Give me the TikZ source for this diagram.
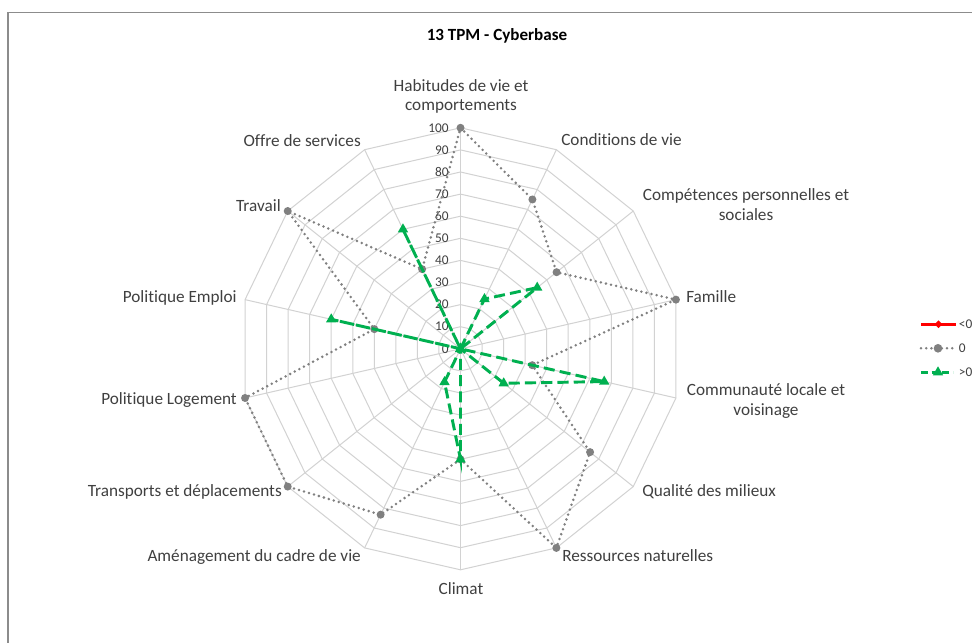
\documentclass[tikz,border=0pt]{standalone}
\usepackage{fontspec}
\setmainfont{Carlito}[Ligatures=NoCommon]
\usetikzlibrary{shapes.geometric}
\definecolor{gridc}{RGB}{210,210,210}
\definecolor{txt}{RGB}{64,64,64}
\definecolor{grayser}{RGB}{128,128,128}
\definecolor{greenser}{RGB}{0,176,80}
\definecolor{framec}{RGB}{140,140,140}
\begin{document}
\begin{tikzpicture}[x=0.75pt,y=-0.75pt,
  gridline/.style={draw=gridc, line width=0.75pt},
  lbl/.style={font=\fontsize{12.9}{15}\selectfont, text=txt, inner sep=0pt},
  numlbl/.style={font=\fontsize{10}{12}\selectfont, text=txt, inner sep=0pt, anchor=east},
  titlelbl/.style={font=\fontsize{12.8}{15}\bfseries\selectfont, text=black, inner sep=0pt, anchor=base},
  grayline/.style={draw=grayser, line width=2.1pt, line cap=round, dash pattern=on 0pt off 3.9pt},
  greenline/.style={draw=greenser, line width=2.2pt, dash pattern=on 8.3pt off 3.9pt},
  graydot/.style={circle, fill=grayser, inner sep=0pt, minimum size=6pt},
  greentri/.style={regular polygon, regular polygon sides=3, fill=greenser, inner sep=0pt, minimum size=9pt},
  reddia/.style={diamond, fill=red, inner sep=0pt, minimum size=4pt}]
\useasboundingbox (0,0) rectangle (972,643);
\fill[white] (0,0) rectangle (972,643);
\clip (0,0) rectangle (972,643);
\draw[framec, line width=1.1pt] (8,700) -- (8,12.5) -- (1000,12.5);

\def\cx{460.5}
\def\cy{348.8}
\coordinate (C) at (\cx,\cy);
% grid coordinates
\foreach \i in {0,...,13} {
  \foreach \k in {1,...,10} {
    \coordinate (r\k-\i) at ({\cx+\k*22.1*sin(\i*360/14)},{\cy-\k*22.1*cos(\i*360/14)});
  }
}
% rings
\foreach \k in {1,...,10} {
  \draw[gridline] (r\k-0) \foreach \i in {1,...,13} { -- (r\k-\i) } -- cycle;
}
% spokes
\foreach \i in {0,...,13} { \draw[gridline] (C) -- (r10-\i); }

% scale labels
\foreach \k [evaluate=\k as \lab using int(\k*10)] in {0,...,10} {
  \node[numlbl] (n\k) at (449,{\cy-\k*22.1}) {\lab};
}

% data
\foreach \v [count=\i from 0] in {100,75,55.6,100,33.3,75,100,50,83.3,100,100,40,100,40} {
  \coordinate (g\i) at ({\cx+\v*2.21*sin(\i*360/14)},{\cy-\v*2.21*cos(\i*360/14)});
}
\foreach \v [count=\i from 0] in {0,25,44.4,0,66.7,25,0,50,16.7,0,0,60,0,60} {
  \coordinate (e\i) at ({\cx+\v*2.21*sin(\i*360/14)},{\cy-\v*2.21*cos(\i*360/14)});
}
% red series (all zero)
\node[reddia] (rz) at (C) {};
% gray series
\draw[grayline] (g0) \foreach \i in {1,...,13} { -- (g\i) } -- cycle;
\foreach \i in {0,...,13} { \node[graydot] (gd\i) at (g\i) {}; }
% green series
\draw[greenline] (e0) \foreach \i in {1,...,13} { -- (e\i) } -- cycle;
\foreach \i in {0,...,13} { \node[greentri] (gt\i) at (e\i) {}; }

% title
\node[titlelbl] (title) at (497,40.7) {13 TPM - Cyberbase};

% axis labels
\node[lbl, anchor=base] (l0a) at (461,91) {Habitudes de vie et};
\node[lbl, anchor=base] (l0b) at (461,110.5) {comportements};
\node[lbl, anchor=base west] (l1) at (561,145) {Conditions de vie};
\node[lbl, anchor=base] (l2a) at (746,200) {Compétences personnelles et};
\node[lbl, anchor=base] (l2b) at (746,220) {sociales};
\node[lbl, anchor=base west] (l3) at (686,302.7) {Famille};
\node[lbl, anchor=base] (l4a) at (766,395) {Communauté locale et};
\node[lbl, anchor=base] (l4b) at (766,415) {voisinage};
\node[lbl, anchor=base west] (l5) at (642,496.7) {Qualité des milieux};
\node[lbl, anchor=base west] (l6) at (562,561) {Ressources naturelles};
\node[lbl, anchor=base] (l7) at (461,594.3) {Climat};
\node[lbl, anchor=base east] (l8) at (361,561) {Aménagement du cadre de vie};
\node[lbl, anchor=base east] (l9) at (282,496.7) {Transports et déplacements};
\node[lbl, anchor=base east] (l10) at (237,404.3) {Politique Logement};
\node[lbl, anchor=base east] (l11) at (237,302.3) {Politique Emploi};
\node[lbl, anchor=base east] (l12) at (281,211) {Travail};
\node[lbl, anchor=base east] (l13) at (361,146.7) {Offre de services};

% legend
\coordinate (la1) at (921,324.3);
\coordinate (lb1) at (956,324.3);
\draw[red, line width=2.2pt] (la1) -- (lb1);
\node[reddia, minimum size=6pt] (lm1) at (938.5,324.3) {};
\node[numlbl, anchor=west] (lt1) at (958.7,324.3) {<0};

\coordinate (la2) at (921,348.3);
\coordinate (lb2) at (953,348.3);
\draw[grayline] (la2) -- (lb2);
\node[graydot, minimum size=6.5pt] (lm2) at (938,348.3) {};
\node[numlbl, anchor=west] (lt2) at (958.7,348.3) {0};

\coordinate (la3) at (921,372.3);
\coordinate (lb3) at (953,372.3);
\draw[greenline, dash pattern=on 5pt off 3pt] (la3) -- (lb3);
\node[greentri] (lm3) at (938,372.3) {};
\node[numlbl, anchor=west] (lt3) at (958.7,372.3) {>0};
\end{tikzpicture}
\end{document}
